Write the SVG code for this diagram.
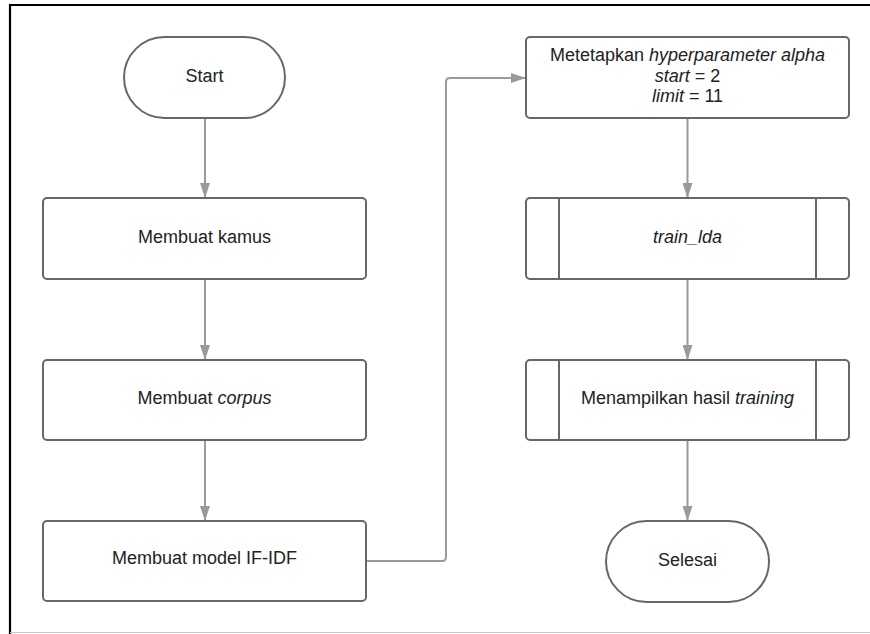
<svg xmlns="http://www.w3.org/2000/svg" width="870" height="634" viewBox="0 0 870 634">
<defs>
<style>
.node{fill:#fff;stroke:#676767;stroke-width:2}
.sub{stroke:#676767;stroke-width:2}
.lbl{font-family:"Liberation Sans",Arial,sans-serif;font-size:18px;fill:#222;text-anchor:middle}
.conn{fill:none;stroke:#9a9a9a;stroke-width:2}
</style>
<marker id="arr" viewBox="0 0 15 10" refX="15" refY="5" markerWidth="15" markerHeight="10" markerUnits="userSpaceOnUse" orient="auto">
<path d="M0,0 L15,5 L0,10 Z" fill="#9a9a9a"/>
</marker>
</defs>
<rect width="870" height="634" fill="#fff"/>
<g id="frame">
<line x1="9" y1="5" x2="870" y2="5" stroke="#000" stroke-width="2.2"/>
<line x1="10" y1="4" x2="10" y2="634" stroke="#000" stroke-width="2.2"/>
<line x1="10" y1="632.5" x2="870" y2="632.5" stroke="#c8c8c8" stroke-width="1"/>
</g>
<g id="connectors">
<line class="conn" x1="205" y1="118" x2="205" y2="198" marker-end="url(#arr)"/>
<line class="conn" x1="205" y1="279" x2="205" y2="360" marker-end="url(#arr)"/>
<line class="conn" x1="205" y1="440" x2="205" y2="521" marker-end="url(#arr)"/>
<path class="conn" d="M366,561 H442 Q446,561 446,557 V82 Q446,78 450,78 H526" marker-end="url(#arr)"/>
<line class="conn" x1="687.5" y1="118" x2="687.5" y2="198" marker-end="url(#arr)"/>
<line class="conn" x1="687.5" y1="279" x2="687.5" y2="360" marker-end="url(#arr)"/>
<line class="conn" x1="687.5" y1="440" x2="687.5" y2="521" marker-end="url(#arr)"/>
</g>
<g id="start">
<rect class="node" x="124" y="37" width="161" height="81" rx="40.5"/>
<text class="lbl" x="204.5" y="82">Start</text>
</g>
<g id="kamus">
<rect class="node" x="43" y="198" width="323" height="81" rx="4"/>
<text class="lbl" x="204.5" y="243">Membuat kamus</text>
</g>
<g id="corpus">
<rect class="node" x="43" y="360" width="323" height="80" rx="4"/>
<text class="lbl" x="204.5" y="404">Membuat <tspan font-style="italic">corpus</tspan></text>
</g>
<g id="model">
<rect class="node" x="43" y="521" width="323" height="80" rx="4"/>
<text class="lbl" x="204.5" y="564">Membuat model IF-IDF</text>
</g>
<g id="alpha">
<rect class="node" x="526" y="37" width="323" height="81" rx="4"/>
<text class="lbl" x="687.5" y="61">Metetapkan <tspan font-style="italic">hyperparameter alpha</tspan></text>
<text class="lbl" x="687.5" y="82"><tspan font-style="italic">start</tspan> = 2</text>
<text class="lbl" x="687.5" y="102"><tspan font-style="italic">limit</tspan> = 11</text>
</g>
<g id="train_lda">
<rect class="node" x="526" y="198" width="323" height="81" rx="4"/>
<line class="sub" x1="559" y1="198" x2="559" y2="279"/>
<line class="sub" x1="816" y1="198" x2="816" y2="279"/>
<text class="lbl" x="687.5" y="243" font-style="italic">train_lda</text>
</g>
<g id="hasil">
<rect class="node" x="526" y="360" width="323" height="80" rx="4"/>
<line class="sub" x1="559" y1="360" x2="559" y2="440"/>
<line class="sub" x1="816" y1="360" x2="816" y2="440"/>
<text class="lbl" x="687.5" y="404">Menampilkan hasil <tspan font-style="italic">training</tspan></text>
</g>
<g id="selesai">
<rect class="node" x="606" y="521" width="163" height="81" rx="40.5"/>
<text class="lbl" x="687.5" y="566">Selesai</text>
</g>
</svg>
